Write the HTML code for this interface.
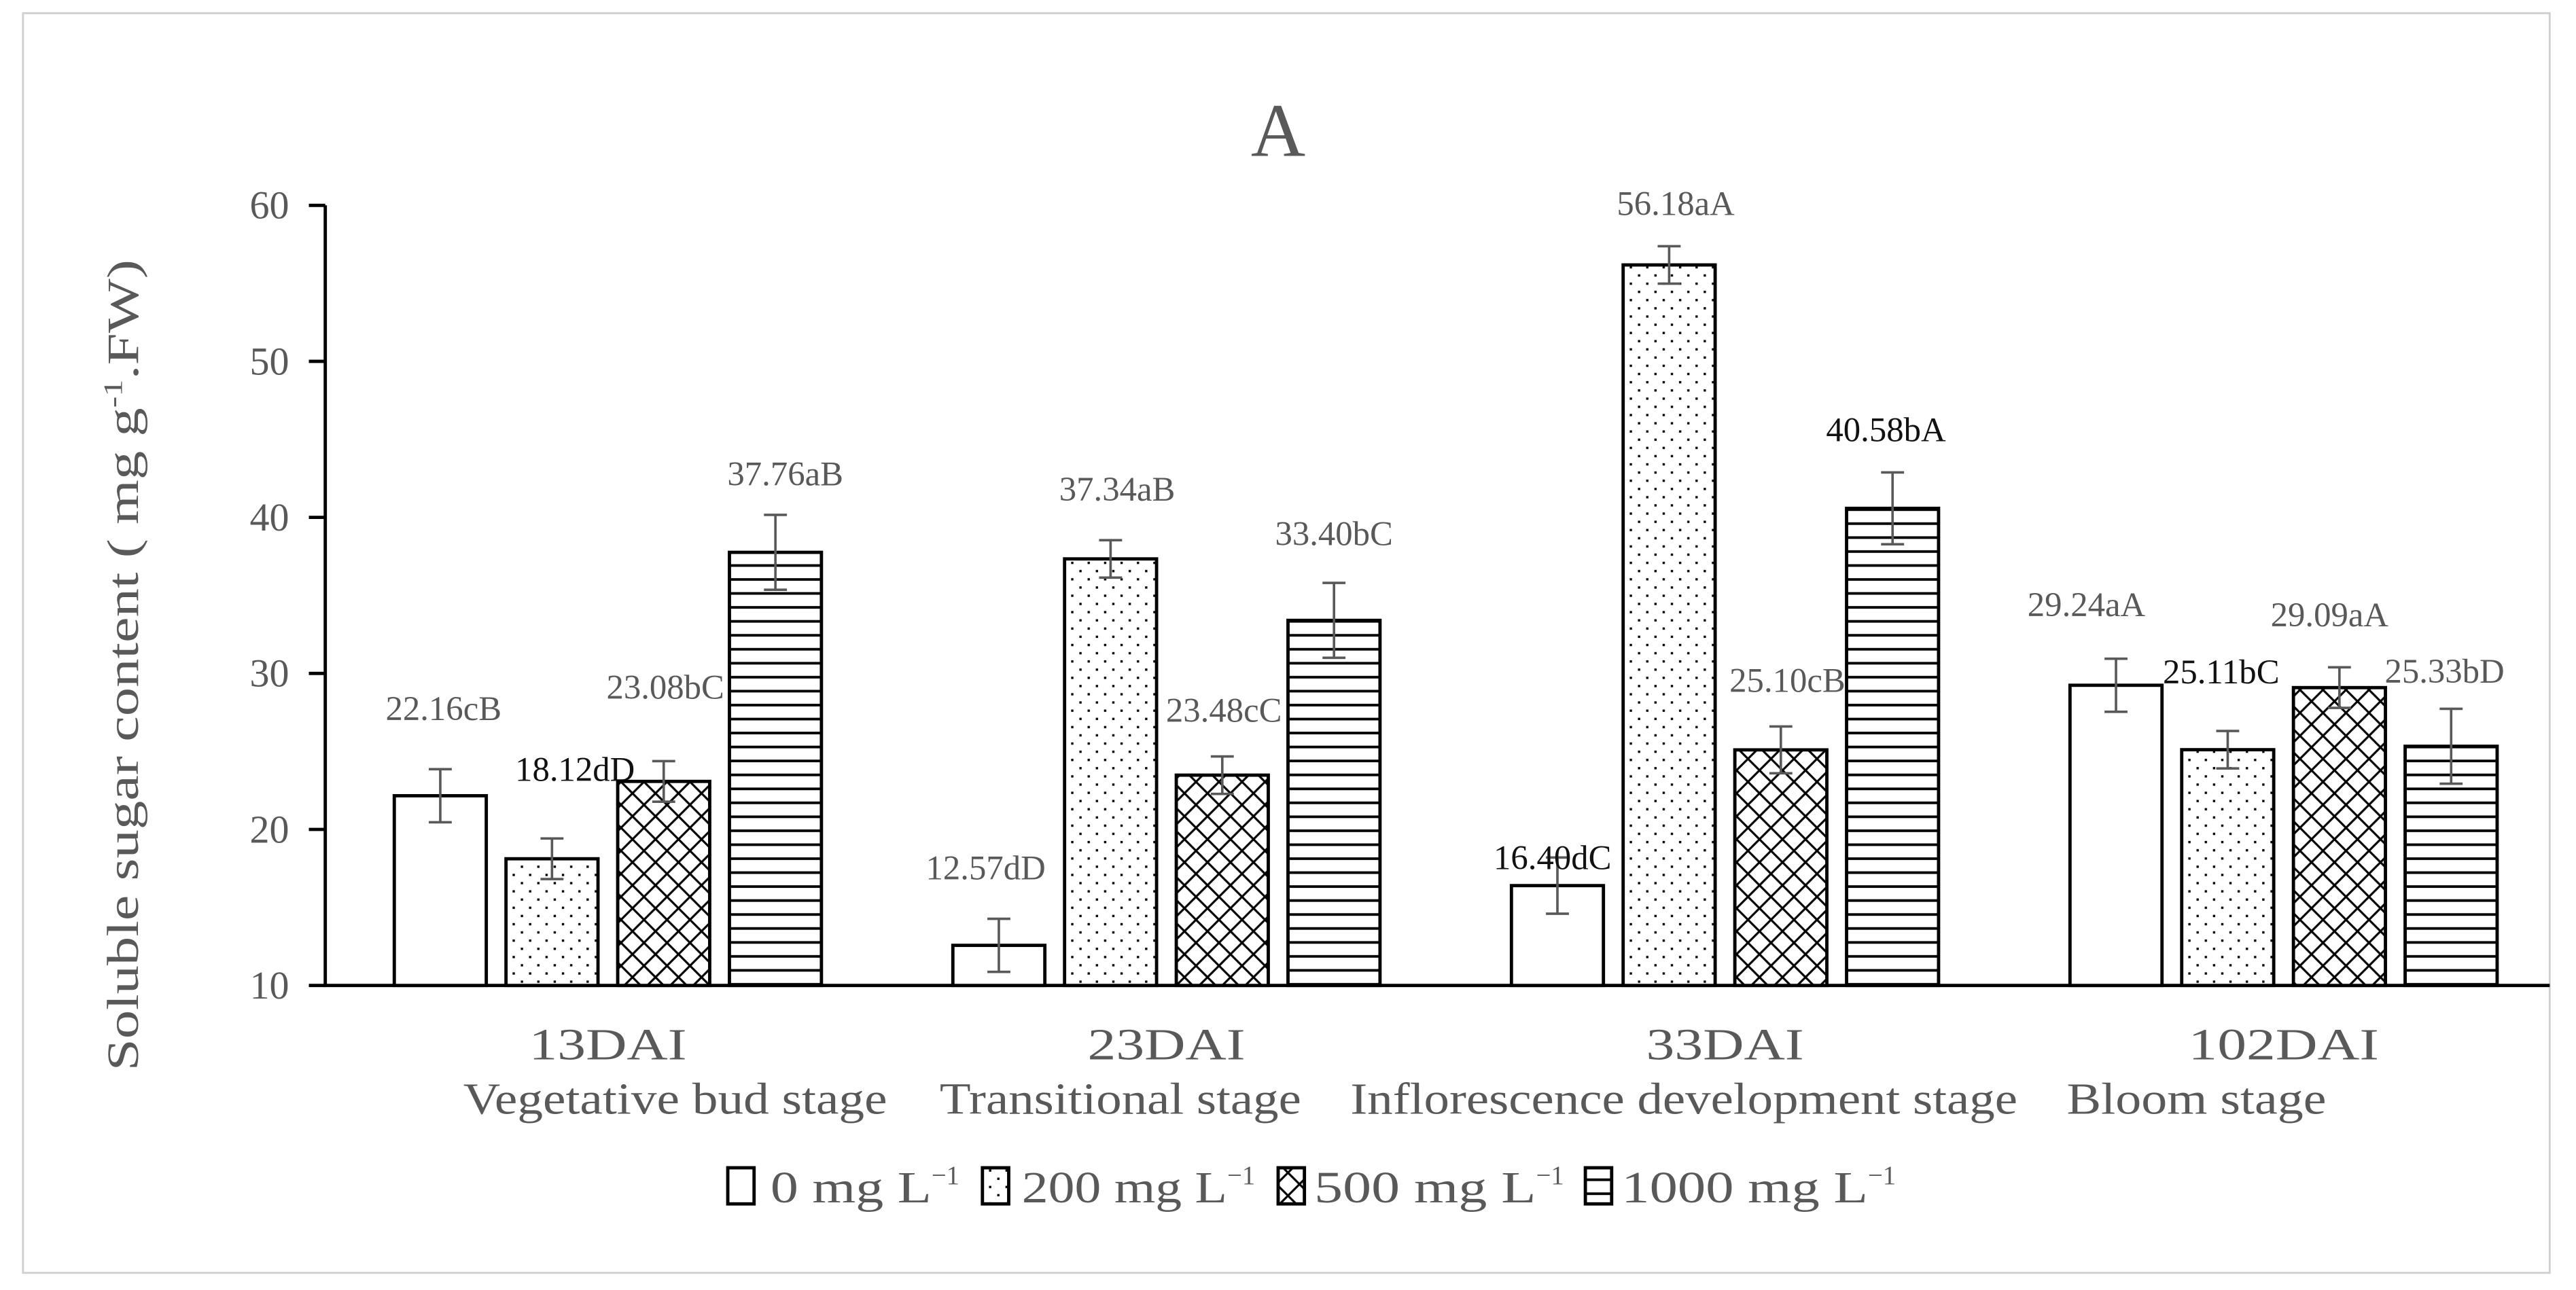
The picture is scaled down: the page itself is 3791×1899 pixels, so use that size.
<!DOCTYPE html>
<html><head><meta charset="utf-8"><style>
html,body{margin:0;padding:0;background:#fff;}
svg{display:block;}
text{font-family:"Liberation Serif",serif;}
</style></head><body>
<svg id="chart" width="3791" height="1899" viewBox="0 0 1568 785.4" xmlns="http://www.w3.org/2000/svg">
<defs>
<pattern id="pDots" patternUnits="userSpaceOnUse" width="10" height="10">
<rect width="10" height="10" fill="#fff"/><rect x="2" y="2" width="1.4" height="1.4" fill="#000"/><rect x="7" y="7" width="1.4" height="1.4" fill="#000"/>
</pattern>
<pattern id="pCross" patternUnits="userSpaceOnUse" width="14" height="14">
<rect width="14" height="14" fill="#fff"/><path d="M0,0L14,14M14,0L0,14" stroke="#000" stroke-width="1.3"/>
</pattern>
<pattern id="pLines" patternUnits="userSpaceOnUse" width="10" height="8.5">
<rect width="10" height="8.5" fill="#fff"/><rect y="3.5" width="10" height="1.6" fill="#000"/>
</pattern>
</defs>
<rect x="14" y="8" width="1538" height="767" fill="#fff" stroke="#d0d0d0" stroke-width="1.2"/>
<text x="778" y="95" font-size="46" fill="#595959" text-anchor="middle">A</text>
<text transform="translate(84,405) rotate(-90)" font-size="27" fill="#595959" text-anchor="middle" textLength="494" lengthAdjust="spacingAndGlyphs">Soluble sugar content ( mg g<tspan dy="-10" font-size="16">-1</tspan><tspan dy="10">.FW)</tspan></text>
<g id="axes"></g>
<g id="bars"></g>
<g id="legend"></g>
</svg>
<script>
const categories = ["13DAI","23DAI","33DAI","102DAI"];
const stages = ["Vegetative bud stage","Transitional stage","Inflorescence development stage","Bloom stage"];
const seriesNames = ["0 mg L","200 mg L","500 mg L","1000 mg L"];
const s0 = [22.16, 12.57, 16.40, 29.24];
const s200 = [18.12, 37.34, 56.18, 25.11];
const s500 = [23.08, 23.48, 25.10, 29.09];
const s1000 = [37.76, 33.40, 40.58, 25.33];
const e0 = [1.7, 1.7, 1.8, 1.7];
const e200 = [1.3, 1.2, 1.2, 1.2];
const e500 = [1.3, 1.2, 1.5, 1.3];
const e1000 = [2.4, 2.4, 2.3, 2.4];
const l0 = ["22.16cB","12.57dD","16.40dC","29.24aA"];
const l200 = ["18.12dD","37.34aB","56.18aA","25.11bC"];
const l500 = ["23.08bC","23.48cC","25.10cB","29.09aA"];
const l1000 = ["37.76aB","33.40bC","40.58bA","25.33bD"];
const yTicks = [10,20,30,40,50,60];

const NS="http://www.w3.org/2000/svg";
const X0=198, X1=1552, Y0=600, Y1=125, YMIN=10, YMAX=60;
function y(v){return Y0-(v-YMIN)/(YMAX-YMIN)*(Y0-Y1);}
const groupW=340, barW=56, barStep=68;
function gx(i){return 370+i*groupW;}
function bx(i,s){return gx(i)-2*barStep+6+s*barStep;}
function mk(tag,attrs,parent){const e=document.createElementNS(NS,tag);for(const k in attrs)e.setAttribute(k,attrs[k]);parent.appendChild(e);return e;}
const axes=document.getElementById('axes'), bars=document.getElementById('bars'), leg=document.getElementById('legend');

const series=[s0,s200,s500,s1000], errs=[e0,e200,e500,e1000], labs=[l0,l200,l500,l1000];
const fills=["#fff","url(#pDots)","url(#pCross)","url(#pLines)"];
const ldx=[[2,-8,-3,-18],[14,4,4,-4],[1,1,4,-6],[6,0,-4,-4]];
const ldy=[[-30,-24,7,-26],[-35,-24,-19,-29],[-38,-21,-21,-25],[-18,-23,-19,-16]];
const dark=[[false,false,true,false],[true,false,false,true],[false,false,false,false],[false,false,true,false]];

series.forEach((vals,s)=>{
  vals.forEach((v,i)=>{
    const x=bx(i,s);
    const r=mk('rect',{x:x,y:y(v),width:barW,height:Y0-y(v),fill:fills[s],stroke:'#000','stroke-width':2},bars);
    
    
    const cx=x+barW/2, e=errs[s][i];
    const eb=mk('path',{d:`M${cx},${y(v+e)}V${y(v-e)}M${cx-7},${y(v+e)}H${cx+7}M${cx-7},${y(v-e)}H${cx+7}`,stroke:'#595959','stroke-width':1.5,fill:'none'},bars);
    
    
    const t=mk('text',{x:cx+ldx[s][i],y:y(v+e)+ldy[s][i],'font-size':21,'text-anchor':'middle',fill:dark[s][i]?'#111':'#595959'},bars);
    t.textContent=labs[s][i];
    
    
  });
});

mk('path',{d:`M${X0},${Y1}V${Y0}H${X1}`,stroke:'#000','stroke-width':2,fill:'none'},axes);
yTicks.forEach(v=>{
  mk('path',{d:`M${X0-10},${y(v)}H${X0}`,stroke:'#000','stroke-width':2},axes);
  const t=mk('text',{x:176,y:y(v)+8,'font-size':24,'text-anchor':'end',fill:'#595959'},axes);
  t.textContent=v;
  
  
});
const stageX=[411,682,1025,1337];
const stageW=[258,220,406,158];
const catW=[96,96,96,116];
categories.forEach((c,i)=>{
  const t=mk('text',{x:gx(i),y:645,'font-size':27,'text-anchor':'middle',fill:'#595959',textLength:catW[i],lengthAdjust:'spacingAndGlyphs'},axes);
  t.textContent=c;
  
  
  const t2=mk('text',{x:stageX[i],y:678,'font-size':27,'text-anchor':'middle',fill:'#595959',textLength:stageW[i],lengthAdjust:'spacingAndGlyphs'},axes);
  t2.textContent=stages[i];
  
  
});
const legX=[443,598,778,965];
const legTX=[469,622,800,987];
const legW=[98,125,135,150];
seriesNames.forEach((n,s)=>{
  const r=mk('rect',{x:legX[s],y:711,width:16,height:22,fill:fills[s],stroke:'#000','stroke-width':2},leg);
  
  
  const t=mk('text',{x:legTX[s],y:732,'font-size':27,fill:'#595959'},leg);
  const a=mk('tspan',{textLength:legW[s],lengthAdjust:'spacingAndGlyphs'},t);
  a.textContent=n;
  const sp=mk('tspan',{dy:-11,'font-size':16},t);
  sp.textContent='−1';
  
  
});
</script>
</body></html>
